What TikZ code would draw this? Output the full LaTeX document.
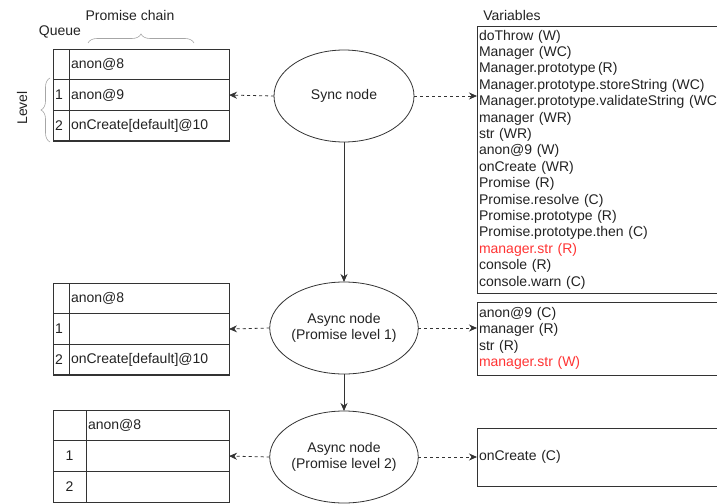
\documentclass[tikz,border=0pt]{standalone}
\usepackage{fontspec}
\setmainfont{Liberation Sans}
\usetikzlibrary{shapes.geometric,arrows.meta,decorations.pathreplacing}
\definecolor{varred}{HTML}{FF3333}
\definecolor{linegray}{HTML}{333333}
\definecolor{textgray}{HTML}{222222}

\begin{document}
\begin{tikzpicture}[x=1pt,y=-1pt,line width=.8pt,text=textgray,font=\fontsize{14pt}{16.4pt}\selectfont,
  cell/.style={draw=linegray,minimum height=30.7pt,inner xsep=2pt,inner ysep=0pt,outer sep=0pt,align=left,anchor=north west},
  qcell/.style={cell,text width=12pt},
  ccell/.style={cell,text width=156pt},
  varbox/.style={draw=linegray,anchor=north west,text width=244pt,inner xsep=2pt,inner ysep=0pt,outer sep=0pt,align=left},
  state/.style={ellipse,draw=linegray,minimum width=140pt,minimum height=92pt,inner sep=0pt,outer sep=0pt,align=center},
  link/.style={draw=linegray,-{Stealth[length=8pt,width=7pt]}},
  dashlink/.style={link,dash pattern=on 3pt off 3pt},
  brace/.style={draw=gray!70,line width=.6pt,decorate,decoration={brace,amplitude=9pt}}]
\clip (0,0) rectangle (717,503);
% labels
\node (chainlbl) at (130,15) {Promise chain};
\node (queuelbl) at (60,32) {Queue};
\node (varlbl) at (512,15) {Variables};
\node[rotate=90] (levellbl) at (22,108) {Level};
\draw[brace] (88,43)--(194,43);
\draw[brace] (50,142)--(50,78);
% queue tables
\node[qcell] (q1a) at (53,49) {};
\node[ccell] (c1a) at (q1a.north east) {anon@8};
\node[qcell] (q1b) at (q1a.south west) {1};
\node[ccell] (c1b) at (q1b.north east) {anon@9};
\node[qcell] (q1c) at (q1b.south west) {2};
\node[ccell] (c1c) at (q1c.north east) {onCreate[default]@10};
\draw[line width=1.5pt,linegray] (q1c.south west)--(c1c.south east);
\node[qcell] (q2a) at (53,283) {};
\node[ccell] (c2a) at (q2a.north east) {anon@8};
\node[qcell] (q2b) at (q2a.south west) {1};
\node[ccell] (c2b) at (q2b.north east) {};
\node[qcell] (q2c) at (q2b.south west) {2};
\node[ccell] (c2c) at (q2c.north east) {onCreate[default]@10};
\draw[line width=1.5pt,linegray] (q2c.south west)--(c2c.south east);
\node[qcell,text width=29pt,align=center] (q3a) at (53,410) {};
\node[ccell,text width=139pt] (c3a) at (q3a.north east) {anon@8};
\node[qcell,text width=29pt,align=center] (q3b) at (q3a.south west) {1};
\node[ccell,text width=139pt] (c3b) at (q3b.north east) {};
\node[qcell,text width=29pt,align=center] (q3c) at (q3b.south west) {2};
\node[ccell,text width=139pt] (c3c) at (q3c.north east) {};
% nodes
\node[state] (sync) at (344,96) {Sync node};
\node[state] (async1) at (344,328) {Async node\\(Promise level 1)};
\node[state] (async2) at (344,457) {Async node\\(Promise level 2)};
% variables
\node[varbox,minimum height=267pt] (vars1) at (477,26) {doThrow (W)\\Manager (WC)\\Manager.prototype\,(R)\\Manager.prototype.storeString (WC)\\Manager.prototype.validateString (WC)\\manager (WR)\\str (WR)\\anon@9 (W)\\onCreate (WR)\\Promise (R)\\Promise.resolve (C)\\Promise.prototype (R)\\Promise.prototype.then (C)\\\textcolor{varred}{manager.str (R)}\\console (R)\\console.warn (C)};
\node[varbox,minimum height=73pt] (vars2) at (477,302) {anon@9 (C)\\manager (R)\\str (R)\\\textcolor{varred}{manager.str (W)}};
\node[varbox,minimum height=58pt] (vars3) at (477,428) {onCreate (C)};
% connectors
\draw[link] (sync)--(async1);
\draw[link] (async1)--(async2);
\draw[dashlink] (sync.west)--(c1b.east);
\draw[dashlink] (async1.west)--(c2b.east);
\draw[dashlink] (async2.west)--(c3b.east);
\draw[dashlink] (sync.east)--(sync.east-|vars1.west);
\draw[dashlink] (async1.east)--(async1.east-|vars2.west);
\draw[dashlink] (async2.east)--(async2.east-|vars3.west);
\end{tikzpicture}
\end{document}
